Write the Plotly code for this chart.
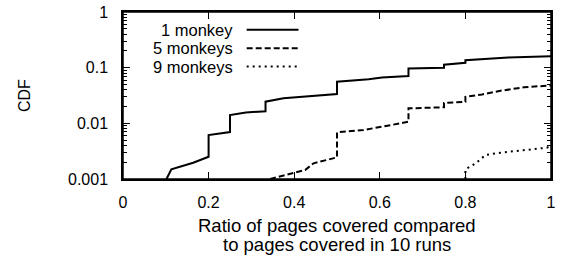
import plotly.graph_objects as go

# Data
one_x = [0.1016, 0.113, 0.164, 0.2, 0.2, 0.25, 0.25, 0.285, 0.287, 0.333, 0.333, 0.375, 0.422,
         0.5, 0.5, 0.574, 0.605, 0.667, 0.667, 0.75, 0.75, 0.8, 0.8, 0.9, 1.0]
one_y = [0.001, 0.00149, 0.00196, 0.00251, 0.00617, 0.00698, 0.0141, 0.0152, 0.0157, 0.0165, 0.0245,
         0.0281, 0.0301, 0.0336, 0.0559, 0.0618, 0.0668, 0.071, 0.097, 0.0995, 0.113, 0.122, 0.136,
         0.153, 0.161]
five_x = [0.3436, 0.402, 0.4255, 0.445, 0.5, 0.5, 0.562, 0.648, 0.667, 0.667, 0.75, 0.75, 0.8, 0.8,
          0.839, 0.882, 0.937, 1.0]
five_y = [0.001, 0.00132, 0.00145, 0.00191, 0.00245, 0.00689, 0.00759, 0.0100, 0.0107, 0.0186,
          0.0194, 0.0232, 0.0244, 0.030, 0.033, 0.0385, 0.0443, 0.0481]
nine_x = [0.8, 0.8, 0.824, 0.847, 0.882, 0.96, 0.99, 1.0]
nine_y = [0.001, 0.00149, 0.00191, 0.0027, 0.00297, 0.00341, 0.00365, 0.0039]

series_names = ["1 monkey", "5 monkeys", "9 monkeys"]
x_tick_vals = [0, 0.2, 0.4, 0.6, 0.8, 1]
x_tick_text = ["0", "0.2", "0.4", "0.6", "0.8", "1"]
y_tick_vals = [0.001, 0.01, 0.1, 1]
y_tick_text = ["0.001", "0.01", "0.1", "1"]

FONT = "Liberation Sans, Arial, sans-serif"
FS = 16
LFS = 16.5
TFS = 18.5
dashes = ["solid", "6px,3px", "2px,4px"]
widths = [2, 2, 2]

fig = go.Figure()
for name, xs, ys, d, w in zip(series_names, [one_x, five_x, nine_x], [one_y, five_y, nine_y], dashes, widths):
    fig.add_trace(go.Scatter(x=xs, y=ys, mode="lines", name=name, hoverinfo="skip",
                             line=dict(color="black", width=w, dash=d), showlegend=False))

minor_vals = [m * 10 ** e for e in (-3, -2, -1) for m in range(2, 10)]

fig.update_layout(
    width=566, height=257,
    margin=dict(l=123, r=15, t=12, b=78),
    paper_bgcolor="white", plot_bgcolor="white",
    font=dict(family=FONT, size=FS, color="black"),
    xaxis=dict(range=[0, 1], tickvals=x_tick_vals, ticktext=x_tick_text,
               ticks="inside", ticklen=7, tickwidth=1, tickcolor="black",
               showline=True, linecolor="black", linewidth=1.5, mirror="ticks",
               showgrid=False, zeroline=False, ticklabelstandoff=8, automargin=False,
               ticklabeloverflow="allow"),
    yaxis=dict(type="log", range=[-3, 0], tickvals=y_tick_vals, ticktext=y_tick_text,
               ticks="inside", ticklen=7, tickwidth=1, tickcolor="black",
               showline=True, linecolor="black", linewidth=1.5, mirror="ticks",
               showgrid=False, zeroline=False, ticklabelstandoff=10, automargin=False,
               ticklabeloverflow="allow",
               minor=dict(tickvals=minor_vals, ticks="inside", ticklen=4, tickcolor="black",
                          tickwidth=1, showgrid=False)),
)

# Plot frame
fig.add_shape(type="rect", xref="paper", yref="paper", x0=0, x1=1, y0=0, y1=1,
              line=dict(color="black", width=1.5), layer="above")

# Axis titles
fig.add_annotation(text="CDF", xref="paper", yref="paper", x=-0.23, y=0.5,
                   textangle=-90, showarrow=False, xanchor="center", yanchor="middle",
                   font=dict(family=FONT, size=FS))
fig.add_annotation(text="Ratio of pages covered compared", xref="paper", yref="paper",
                   x=0.5, y=-0.28, showarrow=False, xanchor="center", yanchor="middle",
                   font=dict(family=FONT, size=TFS))
fig.add_annotation(text="to pages covered in 10 runs", xref="paper", yref="paper",
                   x=0.5, y=-0.395, showarrow=False, xanchor="center", yanchor="middle",
                   font=dict(family=FONT, size=TFS))

# Gnuplot-style legend: right-aligned text, sample line to the right
legend_rows_y = [0.893, 0.783, 0.673]
for name, d, w, yy in zip(series_names, dashes, widths, legend_rows_y):
    fig.add_annotation(text=name, xref="paper", yref="paper", x=0.262, y=yy,
                       showarrow=False, xanchor="right", yanchor="middle",
                       font=dict(family=FONT, size=LFS))
    fig.add_shape(type="line", xref="paper", yref="paper", x0=0.289, x1=0.41, y0=yy, y1=yy,
                  line=dict(color="black", width=w, dash=d))

fig.write_html("out.html", config={"displayModeBar": False},
               post_script="document.body.style.margin='0px';document.body.style.overflow='hidden';")
